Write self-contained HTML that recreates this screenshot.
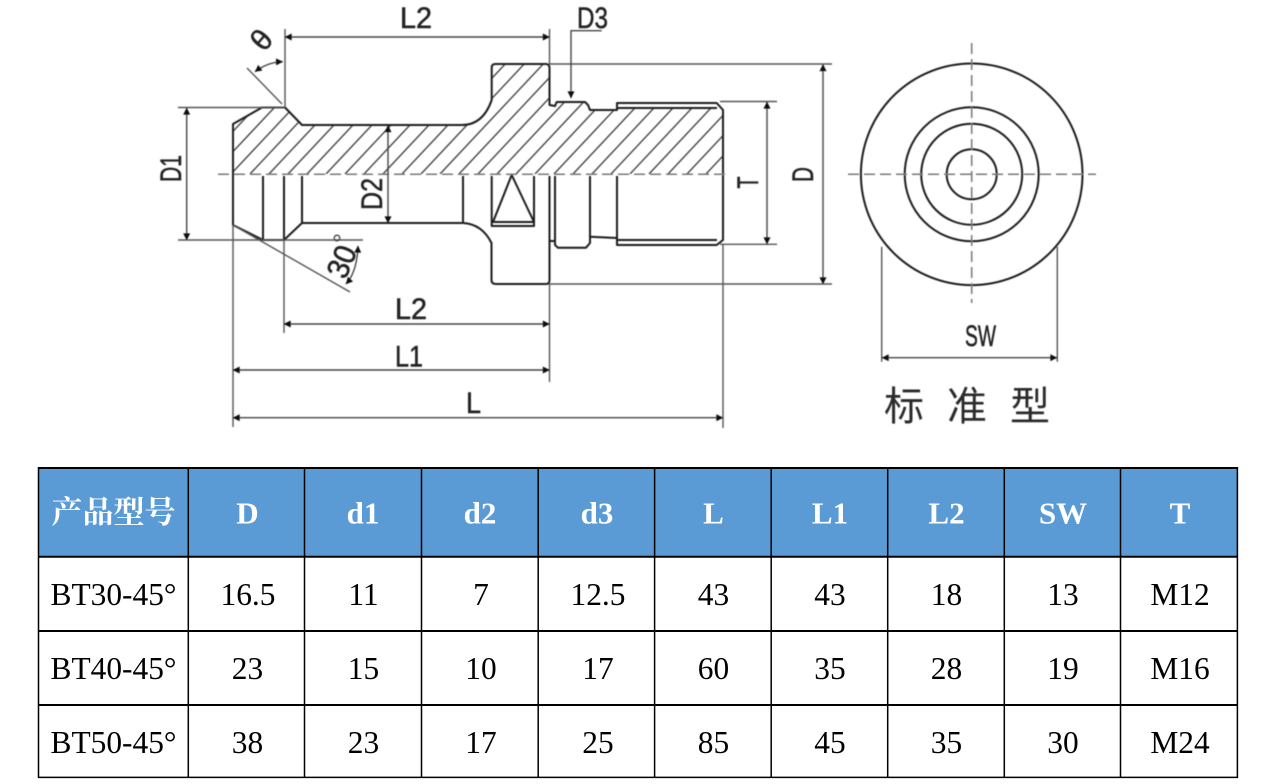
<!DOCTYPE html>
<html lang="zh">
<head>
<meta charset="utf-8">
<title>BT 拉钉 标准型</title>
<style>
html,body{margin:0;padding:0;background:#fff;width:1270px;height:784px;overflow:hidden}
svg{display:block}
.o{fill:none;stroke:#1c1c1c;stroke-width:2;stroke-linejoin:round}
.d{fill:none;stroke:#555;stroke-width:1.4}
.a{fill:none;stroke:#444;stroke-width:1.4;marker-start:url(#ar);marker-end:url(#ar)}
.e{fill:none;stroke:#444;stroke-width:1.4;marker-end:url(#ar)}
.c{fill:none;stroke:#777;stroke-width:1.5;stroke-dasharray:11 5}
.h{fill:none;stroke:#444;stroke-width:1.4}
.l{font-family:"Liberation Sans",sans-serif;font-size:30px;fill:#222;stroke:#222;stroke-width:.5}
.z{font-family:"Noto Sans CJK SC","WenQuanYi Zen Hei",sans-serif;font-size:40px;font-weight:400;fill:#2a2a2a}
.t{font-family:"Liberation Serif","Noto Serif CJK SC",serif;font-size:31.4px;fill:#000;text-anchor:middle}
.th{font-family:"Liberation Serif","Noto Serif CJK SC",serif;font-size:31px;font-weight:700;fill:#fff;text-anchor:middle}
</style>
</head>
<body>
<svg xmlns="http://www.w3.org/2000/svg" width="1270" height="784" viewBox="0 0 1270 784">
<defs>
<marker id="ar" viewBox="0 0 10 10" refX="9.5" refY="5" markerUnits="userSpaceOnUse" markerWidth="8" markerHeight="7" orient="auto-start-reverse"><path d="M0 0L10 5L0 10Z" fill="#111"/></marker>
<clipPath id="cp"><path d="M233 174L233 124L262 107.5L285 107.5L302 125L462 125Q483 125 491.7 100L491.7 68Q491.7 64 495 64L546 64Q549.5 64 549.5 68L549.5 105L555 106L556.7 102L585 102L590 110L617 110L617 108L717 108L723 110L723 174Z"/></clipPath>
<filter id="b" x="-2%" y="-2%" width="104%" height="104%"><feGaussianBlur stdDeviation="0.4"/></filter>
</defs>

<g filter="url(#b)">
<g clip-path="url(#cp)">
<path class="h" d="M193 174l122 -130M212 174l122 -130M231 174l122 -130M250 174l122 -130M269 174l122 -130M288 174l122 -130M307 174l122 -130M326 174l122 -130M345 174l122 -130M364 174l122 -130M383 174l122 -130M402 174l122 -130M421 174l122 -130M440 174l122 -130M459 174l122 -130M478 174l122 -130M497 174l122 -130M516 174l122 -130M535 174l122 -130M554 174l122 -130M573 174l122 -130M592 174l122 -130M611 174l122 -130M630 174l122 -130M649 174l122 -130M668 174l122 -130M687 174l122 -130M706 174l122 -130"/>
</g>

<path class="o" d="M233 174L233 124L262 107.5L285 107.5L302 125L462 125Q483 125 491.7 100L491.7 68Q491.7 64 495 64L546 64Q549.5 64 549.5 68L549.5 105L555 106L556.7 102L585 102L588 105L590 110L617 110L617 103L716.7 103L723 110L723 240L716.7 245L617 245L617 238L590 236.7L590 243L586 247.7L558 247.7L555 245L555 241L549.5 241"/>
<path class="o" d="M617 108L717 108M617 240L717 240"/>
<path class="o" d="M233 174L233 225L263 240L284 240L302 223L463 223Q482 224 491.5 243L491.5 280Q491.5 284 496 284L546 284Q549.5 284 549.5 280L549.5 176"/>
<path class="o" d="M263 176L263 240M284 176L284 240M302 176L302 223M463 176L463 223M491.7 176L491.7 226L534 226L534 176M555 176L555 245M590 176L590 237M617 176L617 245"/>
<path class="o" d="M493 222L511.7 175L534 222Z"/>

<path class="c" d="M218 174.3L730 174.3"/>

<path class="d" d="M285 29L285 107M549.5 29L549.5 64M178 107.5L285 107.5M178 240L363 240M549 64L832 64M549 284L832 284M720 101.5L777 101.5M720 244.3L777 244.3M723 245L723 428M549.5 284L549.5 382M284 240L284 333M233 225L233 427M247 68L282 104M233 225L350 292"/>

<path class="a" d="M285 37L549.5 37"/>
<path class="a" d="M186.7 108L186.7 240"/>
<path class="a" d="M388 125.5L388 223"/>
<path class="a" d="M823 64.5L823 284"/>
<path class="a" d="M767 102L767 244"/>
<path class="a" d="M284 324L549.5 324"/>
<path class="a" d="M233 370L549.5 370"/>
<path class="a" d="M233 417.7L723 417.7"/>
<path class="e" d="M601.7 30.7L571 30.7L571 98"/>
<path class="a" d="M255 71.7Q268 62 282.7 61.7"/>
<path class="a" d="M358 246Q357 272 346 284"/>
<circle cx="337" cy="238" r="2.8" fill="none" stroke="#444" stroke-width="1.3"/>

<text class="l" x="400" y="28" textLength="32" lengthAdjust="spacingAndGlyphs">L2</text>
<text class="l" x="577" y="28" textLength="31" lengthAdjust="spacingAndGlyphs">D3</text>
<text class="l" transform="translate(181,182) rotate(-90)" textLength="27" lengthAdjust="spacingAndGlyphs">D1</text>
<text class="l" transform="translate(382,210) rotate(-90)" textLength="32" lengthAdjust="spacingAndGlyphs">D2</text>
<text class="l" transform="translate(813,182) rotate(-90)" textLength="15" lengthAdjust="spacingAndGlyphs">D</text>
<text class="l" transform="translate(758,188.5) rotate(-90)" textLength="12" lengthAdjust="spacingAndGlyphs">T</text>
<text class="l" x="395" y="319" textLength="32" lengthAdjust="spacingAndGlyphs">L2</text>
<text class="l" x="395" y="366.7" textLength="28" lengthAdjust="spacingAndGlyphs">L1</text>
<text class="l" x="466" y="413" textLength="15" lengthAdjust="spacingAndGlyphs">L</text>
<text class="l" x="965" y="346" textLength="31" lengthAdjust="spacingAndGlyphs">SW</text>
<text class="l" transform="translate(345.5,280.4) rotate(-68)" style="font-size:31px" textLength="32" lengthAdjust="spacingAndGlyphs">30</text>
<text class="l" transform="translate(261.7,40) rotate(-50)" y="10" text-anchor="middle" style="font-size:30px">θ</text>

<g fill="none" stroke="#1c1c1c" stroke-width="2">
<circle cx="971.7" cy="174.3" r="110.8"/>
<circle cx="971.7" cy="174.3" r="67"/>
<circle cx="971.7" cy="174.3" r="50.5"/>
<circle cx="971.7" cy="174.3" r="25"/>
</g>
<path class="c" d="M848 174.3L1096 174.3M971.7 43L971.7 303"/>
<path class="d" d="M881.7 246.7L881.7 361.7M1057.3 246.7L1057.3 361.7"/>
<path class="a" d="M882 357.7L1057 357.7"/>
<text class="z" x="884" y="420">标</text>
<text class="z" x="947" y="420">准</text>
<text class="z" x="1010" y="420">型</text>
</g>

<rect x="38.5" y="468" width="1199" height="89" fill="#5B9BD5"/>
<g stroke="#000" fill="none">
<path stroke-width="2" d="M38 468L1238 468M38 556.8L1238 556.8M38 631L1238 631M38 705L1238 705"/>
<path stroke-width="1.5" d="M38 777.4L1238 777.4M38.5 467L38.5 778M188.3 467L188.3 778M304.5 467L304.5 778M421.5 467L421.5 778M538.2 467L538.2 778M654.6 467L654.6 778M771.2 467L771.2 778M887.7 467L887.7 778M1004.3 467L1004.3 778M1120.5 467L1120.5 778M1237.4 467L1237.4 778"/>
</g>

<text class="th" x="113.5" y="523">产品型号</text>
<text class="th" x="247.5" y="523.5">D</text>
<text class="th" x="363" y="523.5">d1</text>
<text class="th" x="480" y="523.5">d2</text>
<text class="th" x="597" y="523.5">d3</text>
<text class="th" x="713.5" y="523.5">L</text>
<text class="th" x="830" y="523.5">L1</text>
<text class="th" x="946.5" y="523.5">L2</text>
<text class="th" x="1063" y="523.5">SW</text>
<text class="th" x="1180" y="523.5">T</text>

<text class="t" x="113.5" y="605">BT30-45°</text>
<text class="t" x="248" y="605">16.5</text>
<text class="t" x="363.5" y="605">11</text>
<text class="t" x="481" y="605">7</text>
<text class="t" x="598" y="605">12.5</text>
<text class="t" x="713.5" y="605">43</text>
<text class="t" x="830" y="605">43</text>
<text class="t" x="946.5" y="605">18</text>
<text class="t" x="1063" y="605">13</text>
<text class="t" x="1180" y="605">M12</text>

<text class="t" x="113.5" y="679">BT40-45°</text>
<text class="t" x="247.5" y="679">23</text>
<text class="t" x="363.5" y="679">15</text>
<text class="t" x="481" y="679">10</text>
<text class="t" x="598" y="679">17</text>
<text class="t" x="713.5" y="679">60</text>
<text class="t" x="830" y="679">35</text>
<text class="t" x="946.5" y="679">28</text>
<text class="t" x="1063" y="679">19</text>
<text class="t" x="1180" y="679">M16</text>

<text class="t" x="113.5" y="753">BT50-45°</text>
<text class="t" x="247.5" y="753">38</text>
<text class="t" x="363.5" y="753">23</text>
<text class="t" x="481" y="753">17</text>
<text class="t" x="598" y="753">25</text>
<text class="t" x="713.5" y="753">85</text>
<text class="t" x="830" y="753">45</text>
<text class="t" x="946.5" y="753">35</text>
<text class="t" x="1063" y="753">30</text>
<text class="t" x="1180" y="753">M24</text>
</svg>
</body>
</html>
